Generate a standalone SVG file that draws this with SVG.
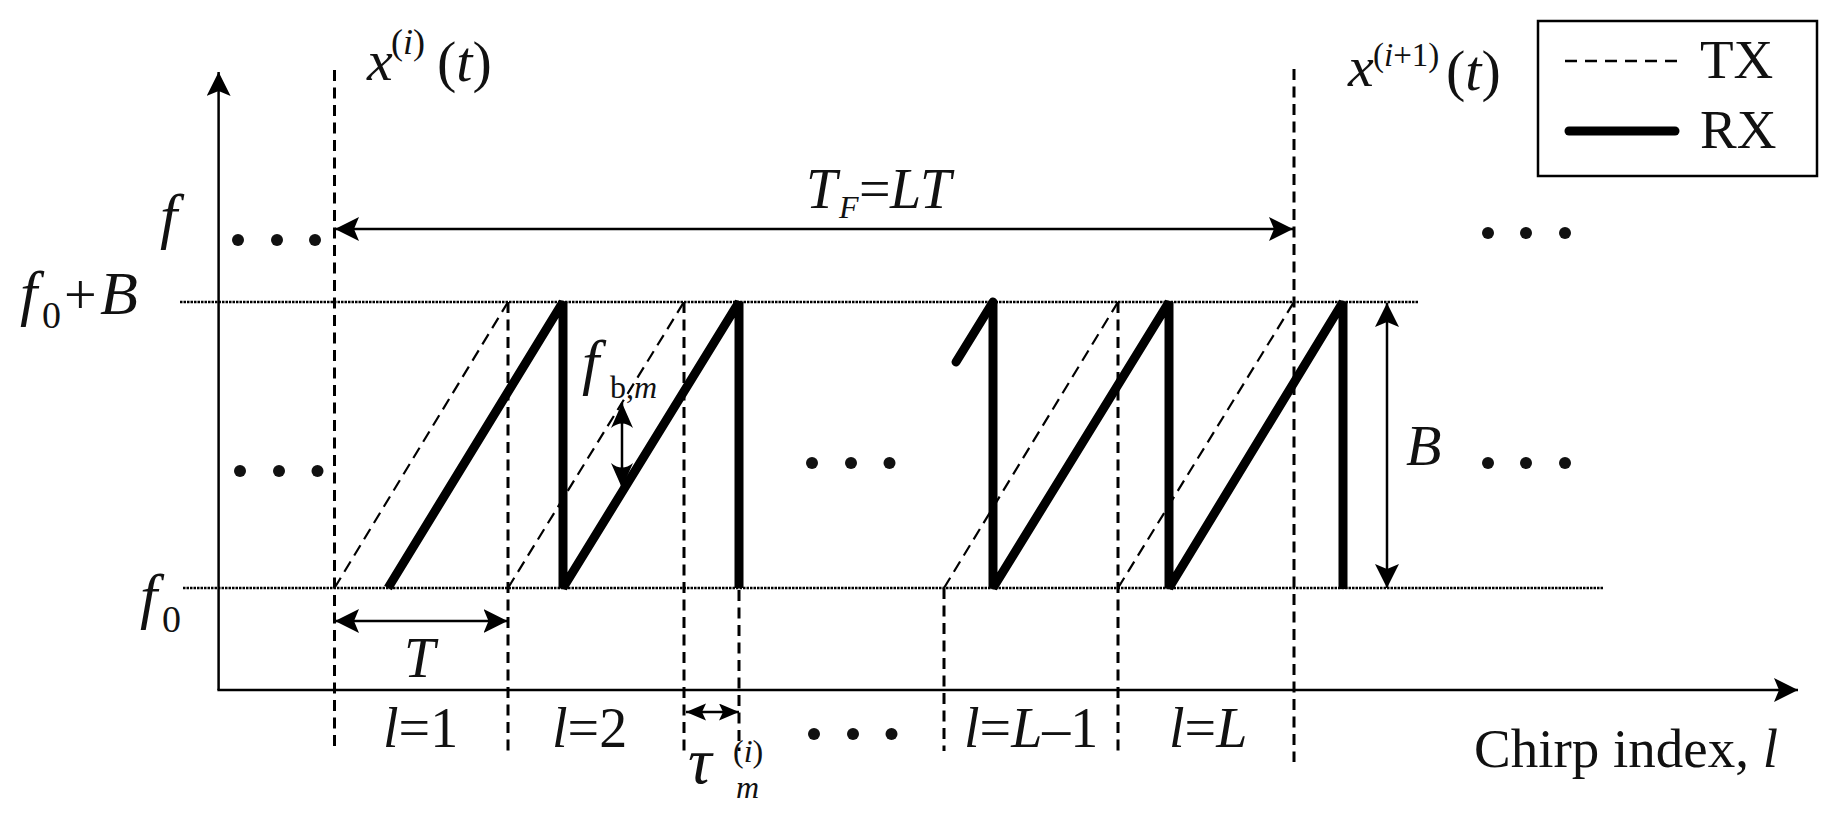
<svg xmlns="http://www.w3.org/2000/svg" width="1833" height="819" viewBox="0 0 1833 819">
<style>
text{font-family:'Liberation Serif','DejaVu Serif',serif;fill:#111}
.i{font-style:italic}
.ax{stroke:#000;stroke-width:2.5;fill:none}
.vd{stroke:#000;stroke-width:3;stroke-dasharray:11 6.5;fill:none}
.tx{stroke:#000;stroke-width:2.2;stroke-dasharray:12 7;fill:none}
.rx{stroke:#000;stroke-width:9;fill:none;stroke-linejoin:bevel}
.dot{stroke:#000;stroke-width:2.6;stroke-dasharray:2.5 1;fill:none}
.ar{stroke:#000;stroke-width:2.5;fill:none}
.el{fill:#111}
</style>
<defs>
<marker id="ah" markerUnits="userSpaceOnUse" markerWidth="26" markerHeight="24" viewBox="0 0 26 24" refX="24" refY="12" orient="auto-start-reverse">
<path d="M24,12 L0,0 L5,12 L0,24 z" fill="#000"/>
</marker>
<marker id="as" markerUnits="userSpaceOnUse" markerWidth="22" markerHeight="18" viewBox="0 0 22 18" refX="20" refY="8.5" orient="auto-start-reverse">
<path d="M20,8.5 L0,0 L4,8.5 L0,17 z" fill="#000"/>
</marker>
<marker id="aw" markerUnits="userSpaceOnUse" markerWidth="26" markerHeight="24" viewBox="0 0 26 24" refX="25" refY="11" orient="auto-start-reverse">
<path d="M25,11 L0,0 Q9,11 0,22 z" fill="#000"/>
</marker>
</defs>

<g id="reference-lines">
<line class="dot" x1="180" y1="302" x2="1418" y2="302"/>
<line class="dot" x1="183" y1="588" x2="1604" y2="588"/>
</g>

<g id="axes">
<line class="ax" x1="218.6" y1="690" x2="218.6" y2="72" marker-end="url(#ah)"/>
<line class="ax" x1="217.4" y1="690" x2="1798" y2="690" marker-end="url(#ah)"/>
</g>

<g id="chirp-boundaries">
<line class="vd" x1="334.5" y1="70" x2="334.5" y2="751"/>
<line class="vd" x1="508" y1="302" x2="508" y2="751"/>
<line class="vd" x1="684" y1="302" x2="684" y2="751"/>
<line class="vd" x1="739" y1="590" x2="739" y2="751"/>
<line class="vd" x1="944" y1="588" x2="944" y2="751"/>
<line class="vd" x1="1118" y1="302" x2="1118" y2="751"/>
<line class="vd" x1="1294" y1="69" x2="1294" y2="762"/>
</g>

<g id="tx-signal">
<line class="tx" x1="334.5" y1="588" x2="508" y2="302"/>
<line class="tx" x1="508" y1="588" x2="684" y2="302"/>
<line class="tx" x1="944" y1="588" x2="1118" y2="302"/>
<line class="tx" x1="1118" y1="588" x2="1294" y2="302"/>
</g>

<g id="rx-signal">
<polyline class="rx" points="388,588 563,302 563,588 739,302 739,588"/>
<line class="rx" x1="956" y1="362" x2="993" y2="302" stroke-linecap="round"/>
<polyline class="rx" points="993,302 993,588 1169,302 1169,588 1343,302 1343,589"/>
</g>

<g id="connectors">
<line class="ar" x1="335" y1="229" x2="1293" y2="229" marker-start="url(#ah)" marker-end="url(#ah)"/>
<line class="ar" x1="335" y1="621" x2="507.5" y2="621" marker-start="url(#ah)" marker-end="url(#ah)"/>
<line class="ar" x1="686" y1="712" x2="739" y2="712" marker-start="url(#as)" marker-end="url(#as)"/>
<line class="ar" x1="1387" y1="303" x2="1387" y2="588" marker-start="url(#ah)" marker-end="url(#ah)"/>
<line class="ar" x1="622" y1="403" x2="622" y2="488" stroke-width="2.2" marker-start="url(#aw)" marker-end="url(#aw)"/>
</g>

<g id="ellipses">
<circle class="el" cx="238" cy="240" r="6"/><circle class="el" cx="277" cy="240" r="6"/><circle class="el" cx="315" cy="240" r="6"/>
<circle class="el" cx="240" cy="471" r="6"/><circle class="el" cx="279" cy="471" r="6"/><circle class="el" cx="317.5" cy="471" r="6"/>
<circle class="el" cx="812" cy="463" r="6"/><circle class="el" cx="851" cy="463" r="6"/><circle class="el" cx="889.5" cy="463" r="6"/>
<circle class="el" cx="814" cy="734" r="6"/><circle class="el" cx="853" cy="734" r="6"/><circle class="el" cx="891.5" cy="734" r="6"/>
<circle class="el" cx="1488" cy="233" r="6"/><circle class="el" cx="1526" cy="233" r="6"/><circle class="el" cx="1565" cy="233" r="6"/>
<circle class="el" cx="1488" cy="463" r="6"/><circle class="el" cx="1526" cy="463" r="6"/><circle class="el" cx="1565" cy="463" r="6"/>
</g>

<g id="legend">
<rect x="1538" y="21" width="279" height="155" fill="none" stroke="#000" stroke-width="2.5"/>
<line x1="1565" y1="61" x2="1679" y2="61" stroke="#000" stroke-width="2.5" stroke-dasharray="12 8"/>
<text x="1700" y="78" font-size="55">TX</text>
<line x1="1569" y1="131" x2="1675" y2="131" stroke="#000" stroke-width="9" stroke-linecap="round"/>
<text x="1700" y="148" font-size="55">RX</text>
</g>

<g id="label-f">
<text class="i" x="160" y="237" font-size="62">f</text>
</g>
<g id="label-f0B">
<text y="314" font-size="58"><tspan class="i" x="20" font-size="62">f</tspan><tspan x="42" y="328" font-size="38">0</tspan><tspan x="64" y="314">+</tspan><tspan class="i" x="100" font-size="62">B</tspan></text>
</g>
<g id="label-f0">
<text y="617" font-size="60"><tspan class="i" x="140" font-size="62">f</tspan><tspan x="162" y="632" font-size="38">0</tspan></text>
</g>
<g id="label-xi">
<text font-size="58"><tspan class="i" x="367" y="80">x</tspan><tspan x="391" y="54" font-size="36">(<tspan class="i">i</tspan>)</tspan><tspan x="437" y="81">(<tspan class="i">t</tspan>)</tspan></text>
</g>
<g id="label-xi1">
<text font-size="58"><tspan class="i" x="1348" y="86">x</tspan><tspan x="1373" y="66" font-size="33">(<tspan class="i">i</tspan>+1)</tspan><tspan x="1446" y="90">(<tspan class="i">t</tspan>)</tspan></text>
</g>
<g id="label-TF">
<text font-size="56"><tspan class="i" x="806" y="208">T</tspan><tspan class="i" x="839" y="218" font-size="32">F</tspan><tspan x="859" y="208">=</tspan><tspan class="i" x="890" y="208">LT</tspan></text>
</g>
<g id="label-T">
<text class="i" x="404" y="677" font-size="56">T</text>
</g>
<g id="label-B">
<text class="i" x="1406" y="465" font-size="58">B</text>
</g>
<g id="label-fbm">
<text font-size="62"><tspan class="i" x="582" y="383">f</tspan><tspan x="610" y="398" font-size="32">b,<tspan class="i">m</tspan></tspan></text>
</g>
<g id="label-tau">
<text font-size="66"><tspan class="i" x="688" y="783">τ</tspan><tspan x="733" y="762" font-size="32">(<tspan class="i">i</tspan>)</tspan><tspan class="i" x="736" y="798" font-size="32">m</tspan></text>
</g>
<g id="chirp-labels">
<text x="383" y="747" font-size="56"><tspan class="i">l</tspan>=1</text>
<text x="552" y="747" font-size="56"><tspan class="i">l</tspan>=2</text>
<text x="964" y="747" font-size="56"><tspan class="i">l</tspan>=<tspan class="i">L</tspan>–1</text>
<text x="1169" y="747" font-size="56"><tspan class="i">l</tspan>=<tspan class="i">L</tspan></text>
</g>
<g id="axis-label">
<text x="1474" y="767" font-size="55">Chirp index, <tspan class="i">l</tspan></text>
</g>
</svg>
